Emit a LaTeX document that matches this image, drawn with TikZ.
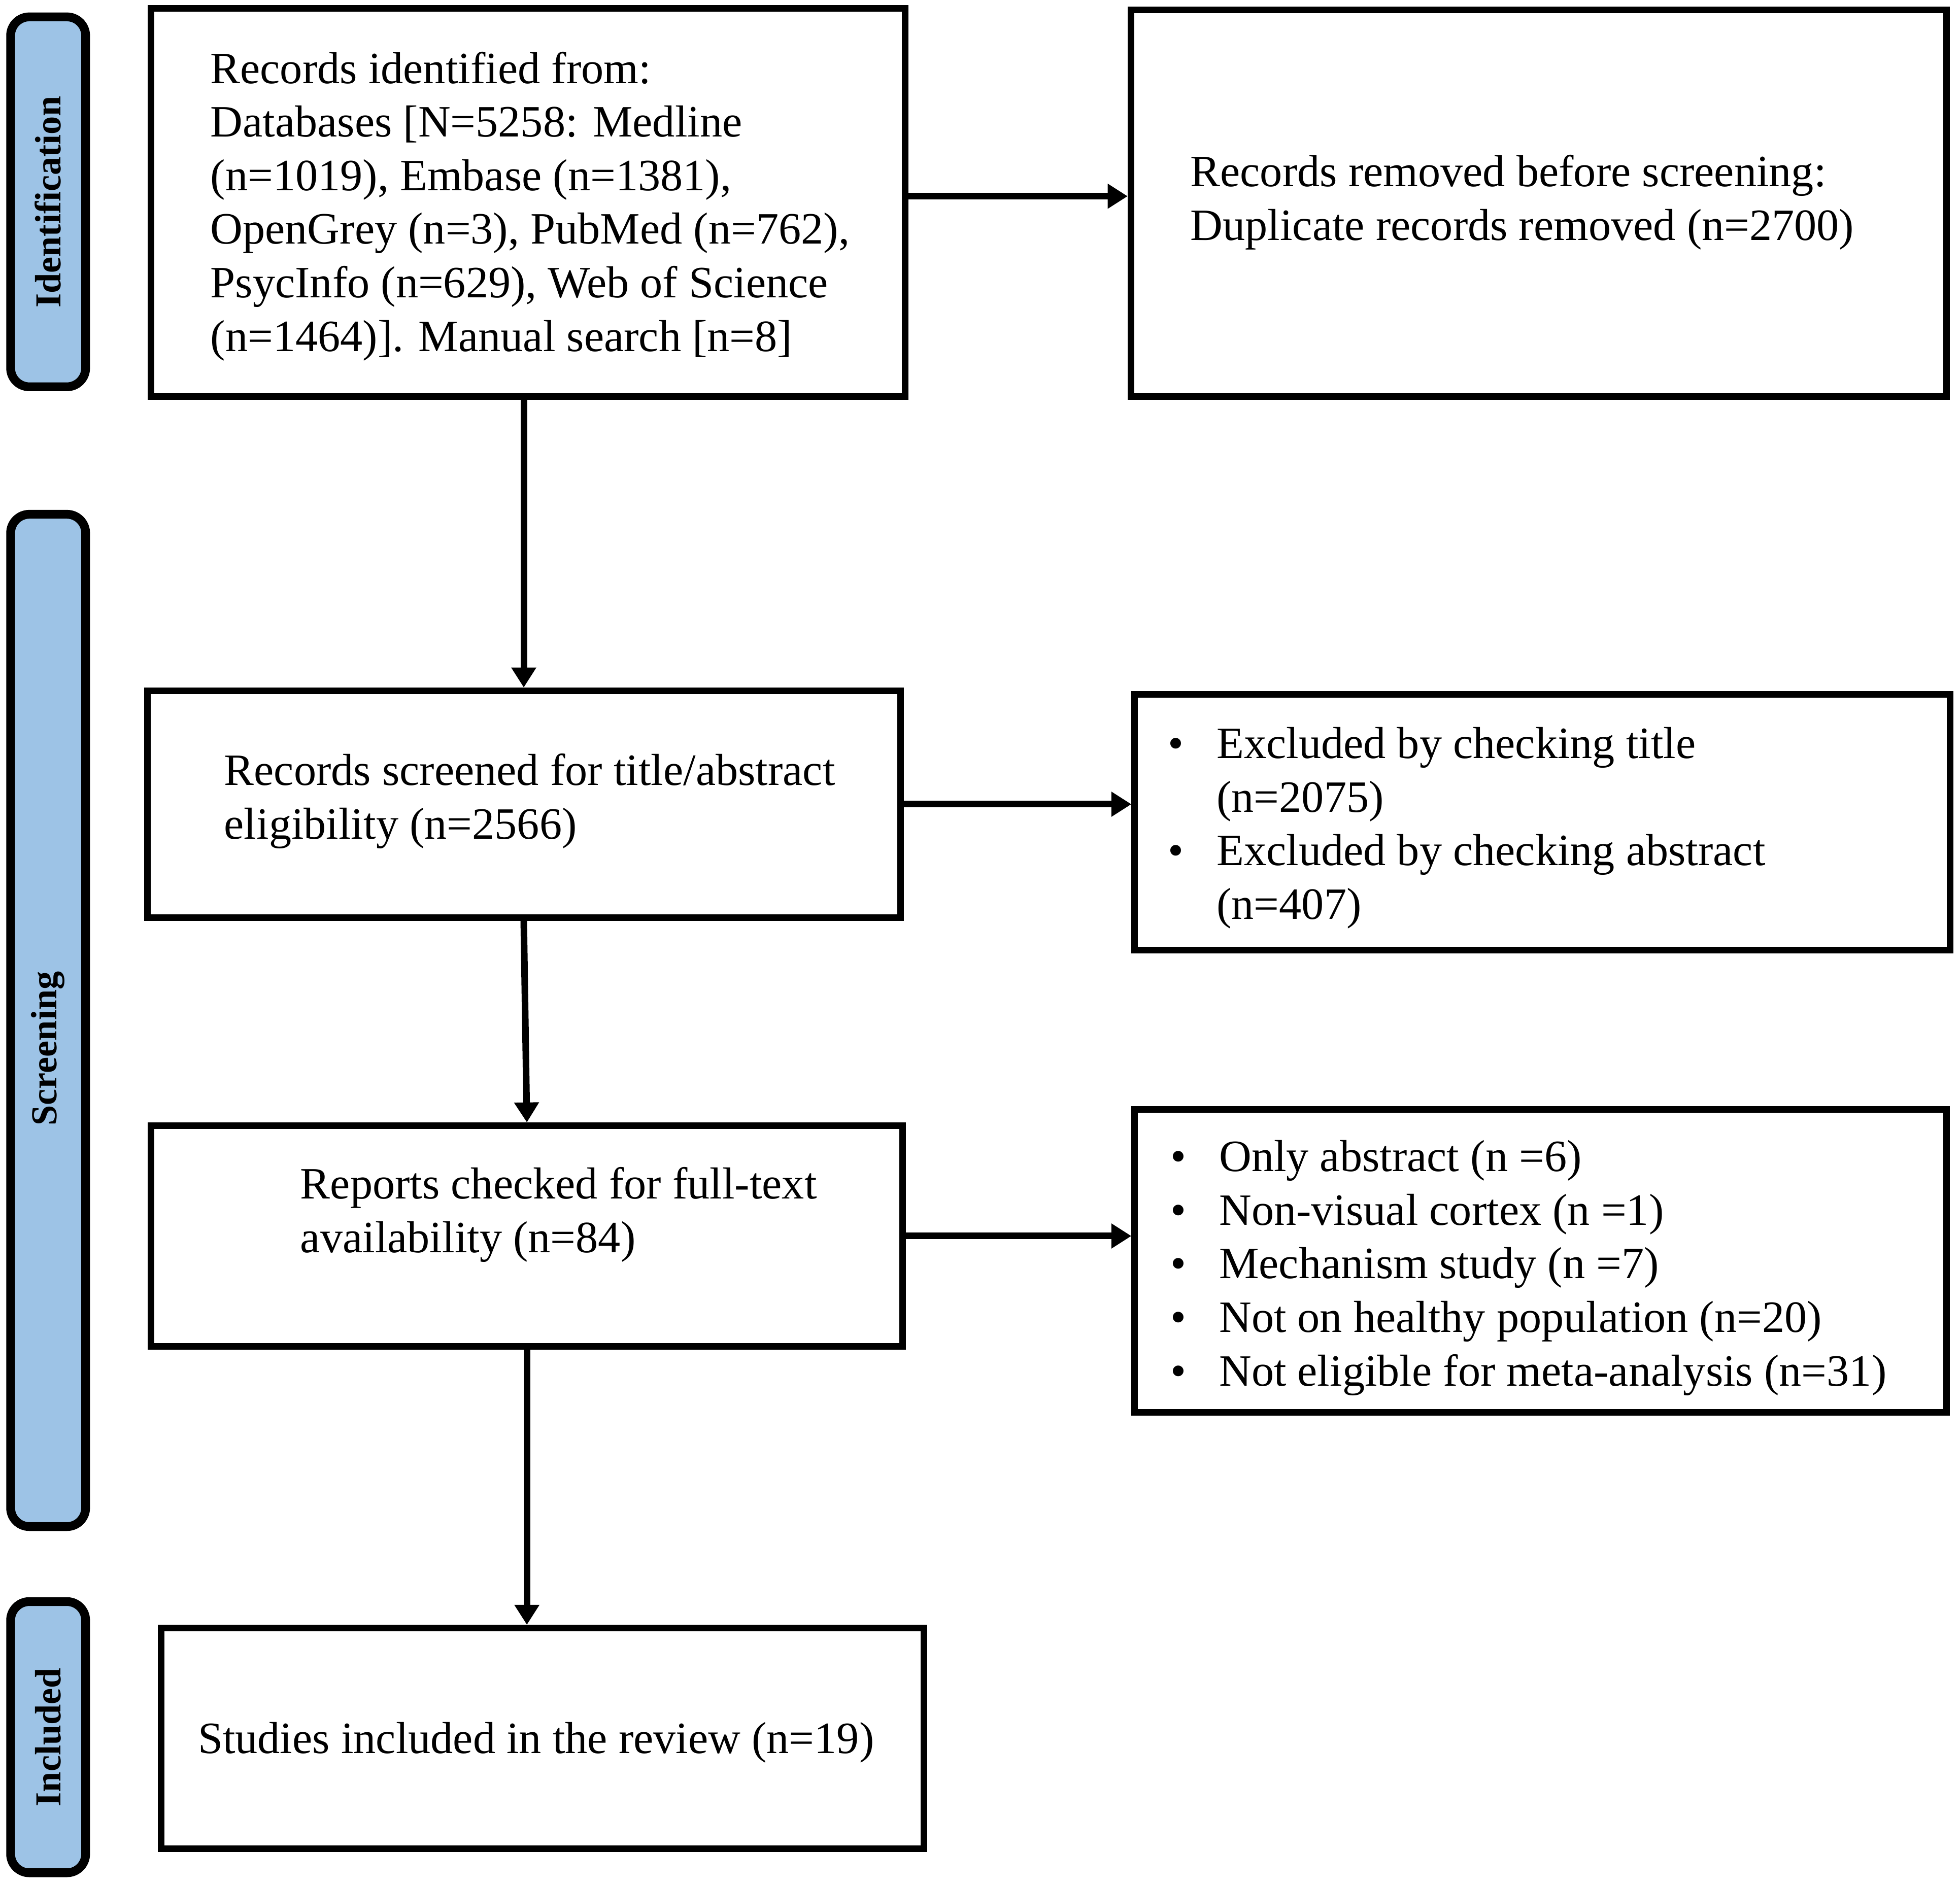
\documentclass[tikz,border=0pt]{standalone}
\usepackage{fontspec}
\setmainfont{Liberation Serif}
\usetikzlibrary{arrows.meta,positioning}
\definecolor{stageblue}{HTML}{9DC3E6}

\newcommand{\itemdot}{\makebox[0.78cm][l]{\textbullet}}
\newcommand{\itemgap}{\hspace*{0.78cm}}

\tikzset{
  stage/.style={draw=black, line width=4pt, fill=stageblue, rounded corners=0.3cm,
    rotate=90, minimum height=1.2cm, inner sep=0pt,
    font=\fontsize{16.7}{20}\selectfont\bfseries},
  box/.style={draw=black, line width=3pt, inner sep=0pt},
  txt/.style={anchor=west, inner sep=0pt, align=left,
    font=\fontsize{20.4}{24.4}\selectfont},
  arr/.style={line width=3pt, -{Triangle[length=0.32cm,width=0.38cm]}}
}

\begin{document}
\begin{tikzpicture}
    \useasboundingbox (0,0) rectangle (31.36,-30.16);

    % Stage bars on the left
    \node[stage, minimum width=5.92cm] (ident) at (0.77,-3.23) {Identification};
    \node[stage, minimum width=16.2cm] (screen) at (0.77,-16.33) {Screening\hspace*{0.9cm}};
    \node[stage, minimum width=4.34cm] (incl) at (0.77,-27.8) {Included};

    % Main column boxes
    \node[box, minimum width=12.07cm, minimum height=6.21cm] (rec) at (8.45,-3.24) {};
    \node[box, minimum width=12.05cm, minimum height=3.63cm] (scr) at (8.38,-12.87) {};
    \node[box, minimum width=12.03cm, minimum height=3.53cm] (rep) at (8.43,-19.78) {};
    \node[box, minimum width=12.21cm, minimum height=3.53cm] (inc) at (8.68,-27.82) {};

    % Side boxes
    \node[box, minimum width=13.05cm, minimum height=6.19cm] (rem) at (24.62,-3.25) {};
    \node[box, minimum width=13.05cm, minimum height=4.09cm] (excl) at (24.68,-13.16) {};
    \node[box, minimum width=12.99cm, minimum height=4.85cm] (oth) at (24.65,-20.18) {};

    % Texts of the boxes
    \node[txt] (rectxt) at (3.36,-3.3) {Records identified from:\\
      Databases [N=5258: Medline\\
      (n=1019), Embase (n=1381),\\
      OpenGrey (n=3), PubMed (n=762),\\
      PsycInfo (n=629), Web of Science\\
      (n=1464)]. Manual search [n=8]};
    \node[txt] (scrtxt) at (3.58,-12.82) {Records screened for title/abstract\\
      eligibility (n=2566)};
    \node[txt] (reptxt) at (4.8,-19.44) {Reports checked for full-text\\
      availability (n=84)};
    \node[txt] (inctxt) at (3.16,-27.89) {Studies included in the review (n=19)};

    \node[txt] (remtxt) at (19.04,-3.24) {Records removed before screening:\\
      Duplicate records removed (n=2700)};
    \node[txt] (excltxt) at (18.68,-13.25) {\itemdot Excluded by checking title\\
      \itemgap (n=2075)\\
      \itemdot Excluded by checking abstract\\
      \itemgap (n=407)};
    \node[txt] (othtxt) at (18.72,-20.29) {\itemdot Only abstract (n =6)\\
      \itemdot Non-visual cortex (n =1)\\
      \itemdot Mechanism study (n =7)\\
      \itemdot Not on healthy population (n=20)\\
      \itemdot Not eligible for meta-analysis (n=31)};

    % Arrows
    \draw[arr] ([yshift=0.1cm]rec.east) -- ([yshift=0.1cm]rec.east -| rem.west);
    \draw[arr] (rec.south -| scr.north) -- (scr.north);
    \draw[arr] (scr.east) -- (scr.east -| excl.west);
    \draw[arr] (scr.south) -- (rep.north);
    \draw[arr] (rep.east) -- (rep.east -| oth.west);
    \draw[arr] (rep.south) -- (rep.south |- inc.north);

\end{tikzpicture}
\end{document}
